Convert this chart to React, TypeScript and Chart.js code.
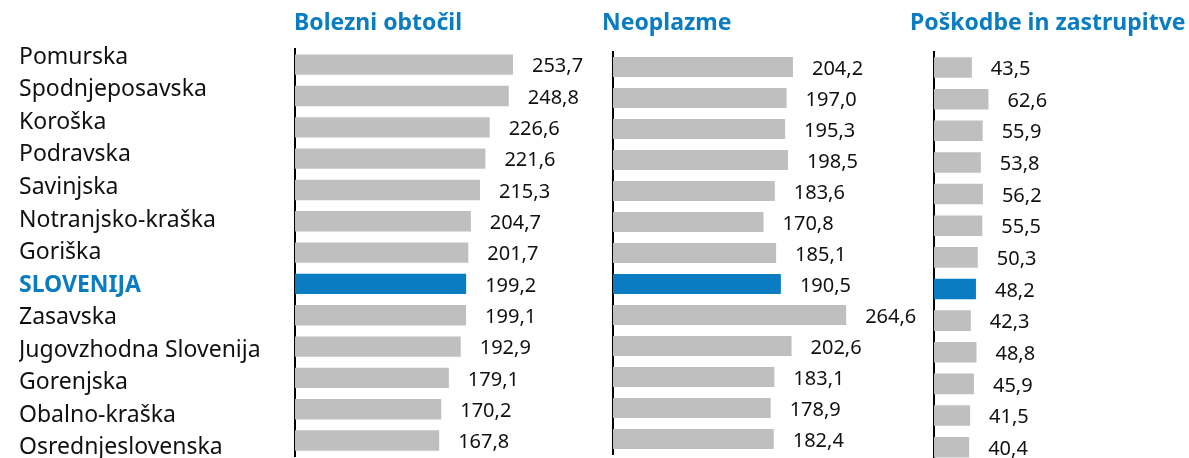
import React, { useEffect, useRef } from "react";
import { Chart, registerables } from "chart.js";

Chart.register(...registerables);

const regions = [
  "Pomurska",
  "Spodnjeposavska",
  "Koroška",
  "Podravska",
  "Savinjska",
  "Notranjsko-kraška",
  "Goriška",
  "SLOVENIJA",
  "Zasavska",
  "Jugovzhodna Slovenija",
  "Gorenjska",
  "Obalno-kraška",
  "Osrednjeslovenska",
];
const highlight = "SLOVENIJA";

const bolezniObtocil = [253.7, 248.8, 226.6, 221.6, 215.3, 204.7, 201.7, 199.2, 199.1, 192.9, 179.1, 170.2, 167.8];
const neoplazme = [204.2, 197.0, 195.3, 198.5, 183.6, 170.8, 185.1, 190.5, 264.6, 202.6, 183.1, 178.9, 182.4];
const poskodbe = [43.5, 62.6, 55.9, 53.8, 56.2, 55.5, 50.3, 48.2, 42.3, 48.8, 45.9, 41.5, 40.4];

const panelTitles = ["Bolezni obtočil", "Neoplazme", "Poškodbe in zastrupitve"];

const GRAY = "#bfbfbf";
const BLUE = "#0a7cc2";
const FONT = "'Noto Sans', sans-serif";

const fmt = (v: number) => v.toFixed(1).replace(".", ",");

const valueLabels = {
  id: "valueLabels",
  afterDatasetsDraw(chart: any) {
    const { ctx } = chart;
    const meta = chart.getDatasetMeta(0);
    const ds = chart.data.datasets[0];
    ctx.save();
    ctx.font = `20px ${FONT}`;
    ctx.fillStyle = "#111111";
    ctx.textAlign = "left";
    ctx.textBaseline = "middle";
    meta.data.forEach((bar: any, i: number) => {
      ctx.fillText(fmt(ds.data[i] as number), bar.x + 19, bar.y + 2);
    });
    ctx.restore();
  },
};

type PanelProps = {
  title: string;
  values: number[];
  left: number;
  width: number;
  height: number;
  axisGap: number;
  max: number;
  titlePadBottom: number;
  padBottom: number;
};

function Panel(p: PanelProps) {
  const ref = useRef<HTMLCanvasElement | null>(null);
  useEffect(() => {
    const chart = new Chart(ref.current as HTMLCanvasElement, {
      type: "bar",
      data: {
        labels: regions,
        datasets: [
          {
            data: p.values,
            backgroundColor: regions.map((r) => (r === highlight ? BLUE : GRAY)),
            barPercentage: 0.65,
            categoryPercentage: 1,
          },
        ],
      },
      options: {
        animation: false,
        responsive: false,
        indexAxis: "y",
        layout: { padding: { top: 0, bottom: p.padBottom, left: 0, right: 0 } },
        plugins: {
          legend: { display: false },
          tooltip: { enabled: false },
          title: {
            display: true,
            text: p.title,
            align: "start",
            color: BLUE,
            font: { family: FONT, size: 23, weight: "bold" },
            padding: { top: 9.5, bottom: p.titlePadBottom },
          },
        },
        scales: {
          x: { display: false, min: 0, max: p.max },
          y: {
            grid: { display: false },
            ticks: { display: false },
            border: { display: true, color: "#000000", width: 2 },
            afterFit: (s: any) => {
              s.width = p.axisGap;
            },
          },
        },
      } as any,
      plugins: [valueLabels],
    });
    return () => chart.destroy();
  }, []);
  return (
    <canvas
      ref={ref}
      width={p.width}
      height={p.height}
      style={{ position: "absolute", left: p.left, top: 0, width: p.width, height: p.height, display: "block" }}
    />
  );
}

function LabelsColumn() {
  const ref = useRef<HTMLCanvasElement | null>(null);
  useEffect(() => {
    const chart = new Chart(ref.current as HTMLCanvasElement, {
      type: "bar",
      data: { labels: regions, datasets: [] },
      options: {
        animation: false,
        responsive: false,
        indexAxis: "y",
        layout: { padding: { top: 41, bottom: 18, left: 19, right: 0 } },
        plugins: { legend: { display: false }, tooltip: { enabled: false } },
        scales: {
          x: { display: false },
          y: {
            position: "left",
            grid: { display: false },
            border: { display: false },
            afterFit: (s: any) => {
              s.width = 268;
            },
            ticks: {
              autoSkip: false,
              crossAlign: "far",
              padding: 0,
              color: (c: any) => (regions[c.index] === highlight ? BLUE : "#111111"),
              font: (c: any) => ({
                family: FONT,
                size: 23,
                weight: regions[c.index] === highlight ? "bold" : "normal",
              }),
            },
          },
        },
      } as any,
    });
    return () => chart.destroy();
  }, []);
  return (
    <canvas
      ref={ref}
      width={290}
      height={482}
      style={{ position: "absolute", left: 0, top: 0, width: 290, height: 482, display: "block" }}
    />
  );
}

export default function App() {
  useEffect(() => {
    document.body.style.margin = "0";
  }, []);
  return (
    <div style={{ position: "relative", width: 1189, height: 458, overflow: "hidden", background: "#ffffff" }}>
      <LabelsColumn />
      <Panel title={panelTitles[0]} values={bolezniObtocil} left={294} width={306} height={458} axisGap={1} max={355} titlePadBottom={11.9} padBottom={1.8} />
      <Panel title={panelTitles[1]} values={neoplazme} left={602} width={322} height={458} axisGap={11} max={352.9} titlePadBottom={14.4} padBottom={3.5} />
      <Panel title={panelTitles[2]} values={poskodbe} left={910} width={279} height={463} axisGap={24} max={293} titlePadBottom={14.6} padBottom={0} />
    </div>
  );
}
